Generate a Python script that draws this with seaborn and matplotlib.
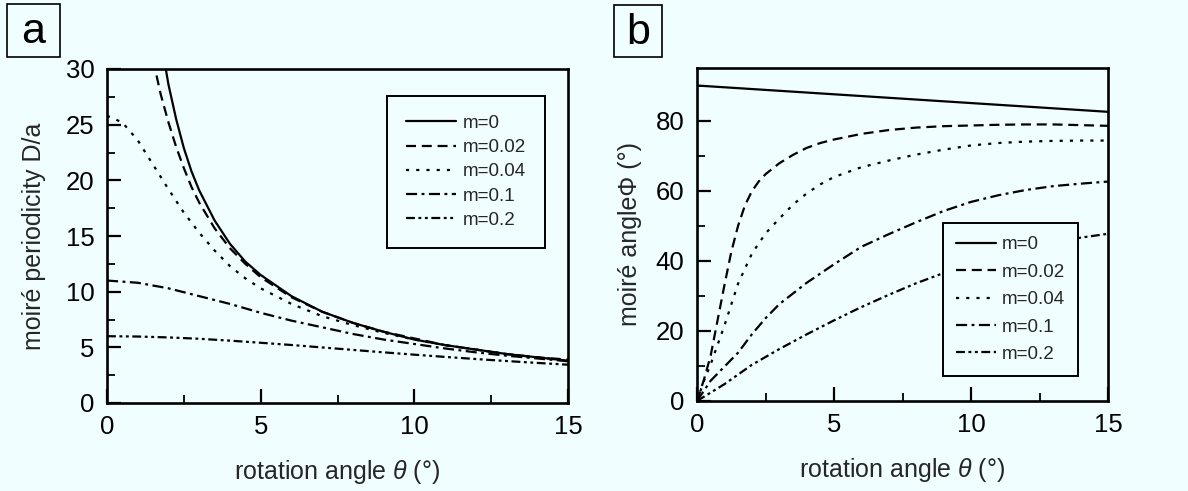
import numpy as np
import pandas as pd
import matplotlib
matplotlib.use("Agg")
import matplotlib.pyplot as plt
import seaborn as sns
from matplotlib.patches import Rectangle
from matplotlib.lines import Line2D
from matplotlib.ticker import MultipleLocator

# ---------------- data ----------------
labels = ["m=0", "m=0.02", "m=0.04", "m=0.1", "m=0.2"]

# panel a : moire periodicity D/a vs rotation angle
a_theta_m0 = [1.8, 2.0, 2.25, 2.5, 2.75, 3, 3.5, 4, 4.5, 5, 6, 7, 8, 9, 10, 11, 12, 13, 14, 15]
a_val_m0 = [31.8, 28.6, 25.5, 22.9, 20.8, 19.1, 16.4, 14.3, 12.7, 11.5, 9.6, 8.2, 7.2, 6.4, 5.7, 5.2, 4.8, 4.4, 4.1, 3.8]
a_theta_m002 = [1.5, 1.75, 2, 2.25, 2.5, 2.75, 3, 3.5, 4, 4.5, 5, 6, 7, 8, 9, 10, 11, 12, 13, 14, 15]
a_val_m002 = [30.8, 27.7, 25.2, 23.0, 21.1, 19.4, 18.0, 15.7, 13.9, 12.5, 11.3, 9.5, 8.2, 7.2, 6.4, 5.8, 5.2, 4.8, 4.4, 4.1, 3.9]
a_theta_m004 = [0, 0.5, 1, 1.5, 2, 2.5, 3, 3.5, 4, 4.5, 5, 6, 7, 8, 9, 10, 11, 12, 13, 14, 15]
a_val_m004 = [25.8, 25.2, 23.6, 21.4, 19.2, 17.1, 15.3, 13.7, 12.3, 11.2, 10.3, 8.9, 7.8, 7.0, 6.3, 5.7, 5.2, 4.8, 4.4, 4.1, 3.85]
a_theta_m01 = [0, 1, 2, 3, 4, 5, 6, 7, 8, 9, 10, 11, 12, 13, 14, 15]
a_val_m01 = [11.0, 10.8, 10.3, 9.6, 8.9, 8.1, 7.4, 6.8, 6.2, 5.7, 5.3, 4.9, 4.55, 4.25, 4.0, 3.75]
a_theta_m02 = [0, 1, 2, 3, 4, 5, 6, 7, 8, 9, 10, 11, 12, 13, 14, 15]
a_val_m02 = [6.0, 5.97, 5.89, 5.77, 5.6, 5.41, 5.21, 4.99, 4.77, 4.55, 4.34, 4.14, 3.95, 3.77, 3.6, 3.44]

# panel b : moire angle Phi vs rotation angle
b_theta_m0 = [0, 5, 10, 15]
b_val_m0 = [90, 87.5, 85, 82.5]
b_theta_m002 = [0, 0.25, 0.5, 0.75, 1, 1.25, 1.5, 1.75, 2, 2.25, 2.5, 3, 3.5, 4, 4.5, 5, 6, 7, 8, 9, 10, 11, 12, 13, 14, 15]
b_val_m002 = [0, 6, 13, 23, 33, 42.5, 50, 55.8, 59.8, 62.6, 64.7, 67.8, 70.2, 72.2, 73.6, 74.6, 76.2, 77.3, 78.0, 78.4, 78.6, 78.8, 78.9, 78.9, 78.7, 78.5]
b_theta_m004 = [0, 0.25, 0.5, 1, 1.5, 2, 2.5, 3, 3.5, 4, 4.5, 5, 6, 7, 8, 9, 10, 11, 12, 13, 14, 15]
b_val_m004 = [0, 5.7, 10.5, 21.5, 33.5, 42.0, 47.8, 52.0, 56.0, 59.2, 61.8, 63.9, 66.7, 68.6, 70.3, 71.7, 72.9, 73.6, 74.0, 74.2, 74.3, 74.3]
b_theta_m01 = [0, 0.5, 1, 1.5, 2, 2.5, 3, 4, 5, 6, 7, 8, 9, 10, 11, 12, 13, 14, 15]
b_val_m01 = [0, 5.8, 9.8, 13.8, 19.0, 23.6, 27.6, 33.7, 39.0, 44.0, 47.6, 51.0, 54.2, 56.8, 58.7, 60.2, 61.3, 62.0, 62.6]
b_theta_m02 = [0, 1, 2, 3, 4, 5, 6, 7, 8, 9, 10, 11, 12, 13, 14, 15]
b_val_m02 = [0, 4.8, 10.3, 14.8, 19.0, 23.0, 26.8, 30.3, 33.6, 36.5, 39.0, 41.3, 43.3, 45.1, 46.6, 47.7]

a_series = [(a_theta_m0, a_val_m0), (a_theta_m002, a_val_m002), (a_theta_m004, a_val_m004),
            (a_theta_m01, a_val_m01), (a_theta_m02, a_val_m02)]
b_series = [(b_theta_m0, b_val_m0), (b_theta_m002, b_val_m002), (b_theta_m004, b_val_m004),
            (b_theta_m01, b_val_m01), (b_theta_m02, b_val_m02)]


def long_form(series):
    frames = []
    for lab, (t, v) in zip(labels, series):
        frames.append(pd.DataFrame({"theta": t, "val": v, "m": lab}))
    return pd.concat(frames, ignore_index=True)


df_a = long_form(a_series)
df_b = long_form(b_series)

# ---------------- style ----------------
BG = "#F0FEFF"
sns.set_theme(style="ticks")
plt.rcParams["font.family"] = ["Liberation Sans", "DejaVu Sans"]
plt.rcParams["mathtext.fontset"] = "custom"
plt.rcParams["mathtext.it"] = "Liberation Sans:italic"
plt.rcParams["mathtext.rm"] = "Liberation Sans"

dash_map = {
    "m=0": "",
    "m=0.02": (4.5, 2.6),
    "m=0.04": (1.4, 3.2),
    "m=0.1": (5, 2, 1.3, 2),
    "m=0.2": (4, 1.6, 1.3, 1.6, 1.3, 1.6),
}
LW = 1.6

fig = plt.figure(figsize=(11.88, 4.91), dpi=100, facecolor=BG)
ax_a = fig.add_axes([107 / 1188, 1 - 403 / 491, (568 - 107) / 1188, (403 - 69) / 491])
ax_b = fig.add_axes([697 / 1188, 1 - 401 / 491, (1108 - 697) / 1188, (401 - 68) / 491])


def draw(ax, df):
    ax.set_facecolor(BG)
    sns.lineplot(data=df, x="theta", y="val", style="m", style_order=labels,
                 dashes=dash_map, color="black", linewidth=LW, ax=ax,
                 errorbar=None, legend=False, sort=True)
    for s in ax.spines.values():
        s.set_linewidth(1.9)
        s.set_color("black")
    ax.tick_params(which="both", direction="in", colors="black", labelsize=18.5, pad=9)
    ax.tick_params(which="major", length=10, width=1.6)
    ax.tick_params(which="minor", length=6, width=1.3)
    ax.xaxis.set_major_locator(MultipleLocator(5))
    ax.xaxis.set_minor_locator(MultipleLocator(2.5))
    ax.set_xlim(0, 15)
    ax.set_xlabel(r"rotation angle $\theta$ (°)", fontsize=18, labelpad=13)


def make_legend(ax, anchor, handlelen, spacing, borderpad):
    handles = []
    for l in labels:
        h = Line2D([0], [0], color="black", linewidth=LW, linestyle="-")
        if dash_map[l]:
            h.set_dashes(dash_map[l])
        handles.append(h)
    leg = ax.legend(handles=handles, labels=labels, loc="upper left",
                    bbox_to_anchor=anchor, bbox_transform=fig.transFigure,
                    borderaxespad=0, fontsize=13.5, frameon=True, fancybox=False,
                    edgecolor="black", facecolor=BG, framealpha=1,
                    handlelength=handlelen, handletextpad=0.35,
                    labelspacing=spacing, borderpad=borderpad)
    leg.get_frame().set_linewidth(1.4)
    return leg


draw(ax_a, df_a)
ax_a.set_ylim(0, 30)
ax_a.yaxis.set_major_locator(MultipleLocator(5))
ax_a.yaxis.set_minor_locator(MultipleLocator(2.5))
ax_a.set_ylabel("moiré periodicity D/a", fontsize=18, labelpad=14)
make_legend(ax_a, (387 / 1188, 1 - 96 / 491), 2.7, 0.38, 1.0)

draw(ax_b, df_b)
ax_b.set_ylim(0, 95)
ax_b.yaxis.set_major_locator(MultipleLocator(20))
ax_b.yaxis.set_minor_locator(MultipleLocator(10))
ax_b.set_ylabel("moiré angleΦ (°)", fontsize=18, labelpad=10)
make_legend(ax_b, (943 / 1188, 1 - 223 / 491), 2.1, 0.55, 0.7)

# panel letters in square boxes
for (x0, y0, x1, y1, letter) in [(7, 4, 60, 57, "a"), (614, 5, 662, 57, "b")]:
    fig.patches.append(Rectangle((x0 / 1188, 1 - y1 / 491), (x1 - x0) / 1188, (y1 - y0) / 491,
                                 transform=fig.transFigure, fill=False,
                                 edgecolor="black", linewidth=1.2))
    fig.text((x0 + x1) / 2 / 1188, 1 - (y0 + y1) / 2 / 491 - 0.004, letter,
             ha="center", va="center", fontsize=31, color="black")

fig.savefig("out.png", dpi=100, facecolor=BG)
